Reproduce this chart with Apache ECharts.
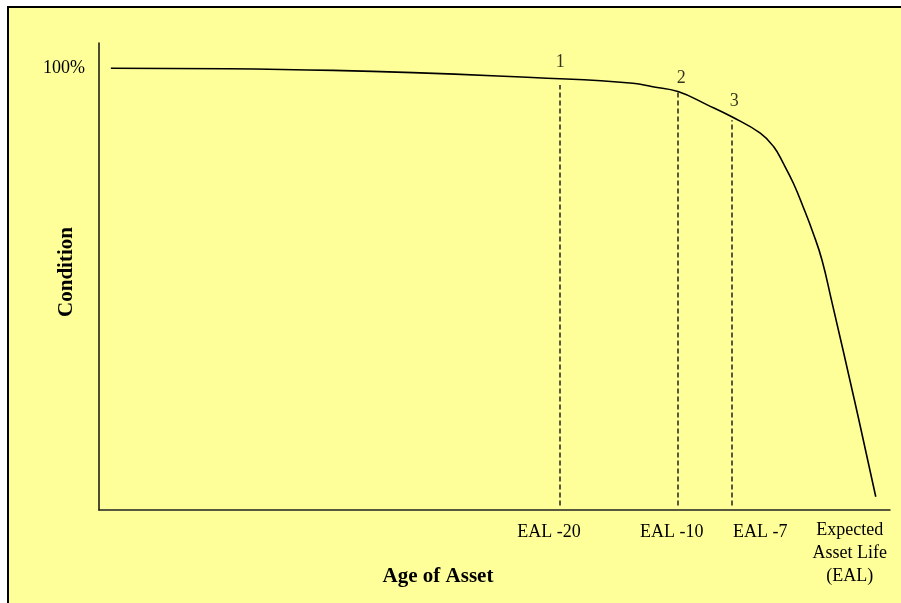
<!DOCTYPE html>
<html>
<head>
<meta charset="utf-8">
<title>Condition vs Age of Asset</title>
<script src="https://cdn.jsdelivr.net/npm/echarts@6.0.0/dist/echarts.min.js"></script>
<style>
  html, body { margin: 0; padding: 0; background: #fff; overflow: hidden; }
  #frame {
    position: absolute; left: 7px; top: 6px; width: 1000px; height: 1000px;
    background: #ffff99; border-left: 2px solid #000; border-top: 2px solid #000;
  }
  #chart { position: absolute; left: 0; top: 0; width: 901px; height: 603px; }
</style>
</head>
<body>
<div id="frame"></div>
<div id="chart"></div>
<script>
// condition curve (age in arbitrary units 0-100, condition in %)
var ageValues = [1.5, 29.6, 58.3, 67.5, 70.0, 73.2, 76.9, 80.0, 83.6, 85.3, 86.5, 87.8, 89.0, 90.3, 91.4, 92.6, 95.5, 98.2];
var conditionValues = [100, 99.5, 97.6, 96.6, 95.8, 94.7, 91.7, 89.0, 85.3, 82.2, 78.5, 73.9, 68.7, 62.6, 56.6, 47.5, 24.9, 3.0];

// dashed markers 1, 2, 3
var markerNames = ['1', '2', '3'];
var markerAge = [58.3, 73.2, 80.0];
var markerTop = [96.2, 94.6, 88.2];
var markerLabelAge = [58.3, 73.6, 80.3];
var markerLabelLevel = [101.4, 97.7, 92.5];

// tick labels
var xTickValues = [56.9, 72.4, 83.6, 94.9];
var xTickLabels = ['EAL -20', 'EAL -10', 'EAL -7', 'Expected\nAsset Life\n(EAL)'];
var yTickValues = [100];
var yTickLabels = ['100%'];

(function(doc){

  var font = 'Liberation Serif',
      myChart = echarts.init(doc.getElementById('chart'), null, {renderer: 'canvas'});

  var nearest = function(list, v) {
    var best = 0;
    for (var i = 1; i < list.length; i++) {
      if (Math.abs(list[i] - v) < Math.abs(list[best] - v)) best = i;
    }
    return best;
  };

  var curve = [];
  for (var i = 0; i < ageValues.length; i++) {
    curve.push([ageValues[i], conditionValues[i]]);
  }

  var dashLines = [], numLabels = [];
  for (var j = 0; j < markerAge.length; j++) {
    dashLines.push([{coord: [markerAge[j], 1]}, {coord: [markerAge[j], markerTop[j]]}]);
    numLabels.push({value: [markerLabelAge[j], markerLabelLevel[j]], name: markerNames[j]});
  }

  var option = {
    animation: false,
    backgroundColor: 'transparent',
    grid: {
      left: 99,
      right: 11,
      top: 43,
      bottom: 93,
      outerBoundsMode: 'none'
    },
    xAxis: {
      type: 'value',
      min: 0,
      max: 100,
      splitLine: {show: false},
      axisTick: {show: false},
      axisLine: {lineStyle: {color: '#222', width: 1.5}},
      axisLabel: {
        customValues: xTickValues,
        margin: 9,
        color: '#000',
        fontFamily: font,
        fontSize: 18,
        lineHeight: 23,
        formatter: function(v) {
          var k = nearest(xTickValues, v),
              txt = xTickLabels[k];
          return txt.indexOf('\n') >= 0 ? '{e|' + txt + '}' : '{n|' + txt + '}';
        },
        rich: {
          n: {fontFamily: font, fontSize: 18, lineHeight: 23, padding: [4, 0, 0, 0], color: '#000'},
          e: {fontFamily: font, fontSize: 18, lineHeight: 23, color: '#000', align: 'center'}
        }
      }
    },
    yAxis: {
      type: 'value',
      min: 0,
      max: 105.7,
      splitLine: {show: false},
      axisTick: {show: false},
      axisLine: {show: true, lineStyle: {color: '#111', width: 1.5}},
      axisLabel: {
        customValues: yTickValues,
        margin: 14,
        color: '#000',
        fontFamily: font,
        fontSize: 18,
        formatter: function(v) {
          return yTickLabels[nearest(yTickValues, v)];
        }
      }
    },
    graphic: [
      {
        type: 'text',
        x: 438,
        y: 577,
        style: {
          text: 'Age of Asset',
          fill: '#000',
          font: 'bold 21px "Liberation Serif"',
          align: 'center',
          verticalAlign: 'middle'
        }
      },
      {
        type: 'text',
        x: 67,
        y: 272,
        rotation: Math.PI / 2,
        style: {
          text: 'Condition',
          fill: '#000',
          font: 'bold 21px "Liberation Serif"',
          align: 'center',
          verticalAlign: 'middle'
        }
      }
    ],
    series: [
      {
        name: 'Condition',
        type: 'line',
        data: curve,
        smooth: 0.45,
        symbol: 'none',
        lineStyle: {color: '#000', width: 1.6},
        markLine: {
          silent: true,
          symbol: 'none',
          label: {show: false},
          lineStyle: {color: '#222', width: 1.5, type: [5, 3]},
          data: dashLines
        }
      },
      {
        name: 'Markers',
        type: 'scatter',
        data: numLabels,
        symbolSize: 0,
        silent: true,
        label: {
          show: true,
          position: 'inside',
          formatter: '{b}',
          color: '#000',
          fontFamily: font,
          fontSize: 18
        }
      }
    ]
  };

  myChart.setOption(option);

})(document);
</script>
</body>
</html>
